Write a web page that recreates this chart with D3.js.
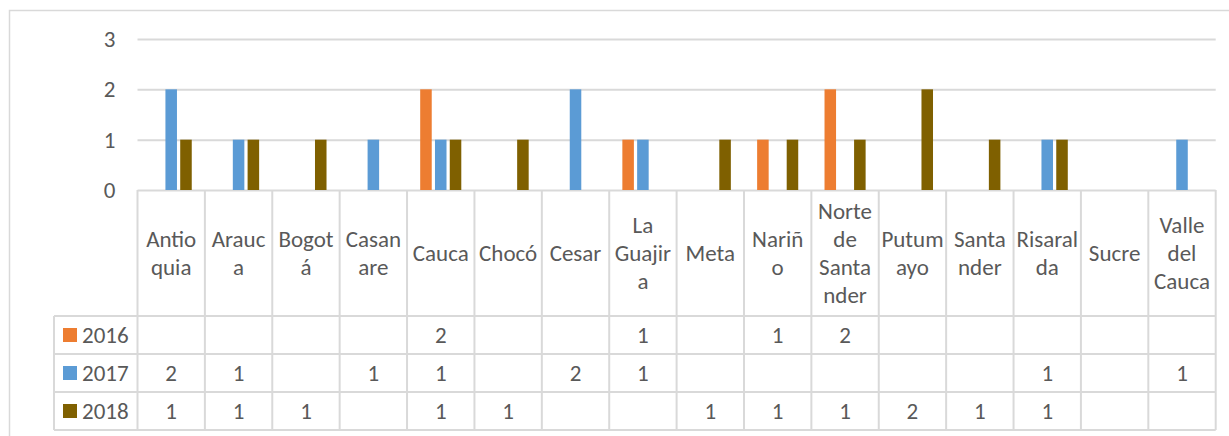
<!DOCTYPE html>
<html><head><meta charset="utf-8">
<script src="https://cdn.jsdelivr.net/npm/d3@7"></script>
<style>
html,body{margin:0;padding:0;background:#fff;}
svg{display:block;}
text{font-family:Carlito, Calibri, Lato, sans-serif;fill:#595959;}
</style></head>
<body><svg id="c" width="1229" height="436"></svg>
<script>
const categories = ["Antioquia","Arauca","Bogotá","Casanare","Cauca","Chocó","Cesar","La Guajira","Meta","Nariño","Norte de Santander","Putumayo","Santander","Risaralda","Sucre","Valle del Cauca"];
const categoryLabelLines = [["Antio","quia"],["Arauc","a"],["Bogot","á"],["Casan","are"],["Cauca"],["Chocó"],["Cesar"],["La","Guajir","a"],["Meta"],["Nariñ","o"],["Norte","de","Santa","nder"],["Putum","ayo"],["Santa","nder"],["Risaral","da"],["Sucre"],["Valle","del","Cauca"]];
const seriesNames = ["2016","2017","2018"];
const values2016 = [null,null,null,null,2,null,null,1,null,1,2,null,null,null,null,null];
const values2017 = [2,1,null,1,1,null,2,1,null,null,null,null,null,1,null,1];
const values2018 = [1,1,1,null,1,1,null,null,1,1,1,2,1,1,null,null];
const yTicks = [0,1,2,3];
const colors = ["#ED7D31","#5B9BD5","#7F6000"];

const seriesValues = [values2016, values2017, values2018];
const svg = d3.select("#c");
const fontSize = 23;
const gridColor = "#D9D9D9";

// chart border
svg.append("rect").attr("x",9.5).attr("y",10.5).attr("width",1240).attr("height",440)
  .attr("fill","none").attr("stroke",gridColor).attr("stroke-width",1.5);

const plotLeft = 137.5, plotRight = 1215.7, plotTop = 39, plotBottom = 190;
const x = d3.scaleBand().domain(categories).range([plotLeft,plotRight]).padding(0);
const y = d3.scaleLinear().domain([0,3]).range([plotBottom,plotTop]);
const inner = d3.scaleBand().domain(seriesNames).range([-20.55,20.55]).paddingInner(0.22).paddingOuter(0);

// gridlines + y labels
const yAxis = d3.axisLeft(y).tickValues(yTicks).tickSize(-(plotRight-plotLeft)).tickFormat(d3.format("d"));
const ya = svg.append("g").attr("transform",`translate(${plotLeft},0)`).call(yAxis);
ya.select(".domain").remove();
ya.selectAll(".tick line").attr("stroke",gridColor).attr("stroke-width",2);
ya.selectAll(".tick text").attr("x",-22).attr("font-size",fontSize).attr("fill","#595959")
  .style("font-family","Carlito, Calibri, Lato, sans-serif");

// bars
seriesNames.forEach((s,si)=>{
  svg.append("g").selectAll("rect").data(categories.map((c,i)=>({c,v:seriesValues[si][i]})).filter(d=>d.v!=null))
    .join("rect")
    .attr("x",d=>x(d.c)+x.bandwidth()/2+inner(s))
    .attr("width",inner.bandwidth())
    .attr("y",d=>y(d.v))
    .attr("height",d=>y(0)-y(d.v))
    .attr("fill",colors[si]);
});

// data table
const headerBottom = 316, rowH = 38, legendLeft = 54;
const rowTop = i => headerBottom + i*rowH;
const tableBottom = rowTop(seriesNames.length);
const tg = svg.append("g");
categories.forEach((c,i)=>{
  tg.append("line").attr("x1",x(c)).attr("x2",x(c)).attr("y1",plotBottom).attr("y2",tableBottom)
    .attr("stroke",gridColor).attr("stroke-width",2);
});
tg.append("line").attr("x1",plotRight).attr("x2",plotRight).attr("y1",plotBottom).attr("y2",tableBottom).attr("stroke",gridColor).attr("stroke-width",2);
tg.append("line").attr("x1",legendLeft).attr("x2",legendLeft).attr("y1",headerBottom).attr("y2",tableBottom).attr("stroke",gridColor).attr("stroke-width",2);
for(let i=0;i<=seriesNames.length;i++){
  tg.append("line").attr("x1",legendLeft).attr("x2",plotRight).attr("y1",rowTop(i)).attr("y2",rowTop(i)).attr("stroke",gridColor).attr("stroke-width",2);
}
const lineH = 28;
categories.forEach((c,i)=>{
  const lines = categoryLabelLines[i];
  const cy = (plotBottom+headerBottom)/2;
  const t = tg.append("text").attr("text-anchor","middle").attr("font-size",fontSize)
    .attr("x",x(c)+x.bandwidth()/2);
  lines.forEach((l,j)=>{
    t.append("tspan").attr("x",x(c)+x.bandwidth()/2)
      .attr("y",cy + (j-(lines.length-1)/2)*lineH).attr("dy","0.35em").text(l);
  });
});
seriesNames.forEach((s,si)=>{
  const cy = rowTop(si)+rowH/2;
  tg.append("rect").attr("x",63).attr("y",cy-7).attr("width",14).attr("height",14).attr("fill",colors[si]);
  tg.append("text").attr("x",82).attr("y",cy).attr("dy","0.35em").attr("font-size",fontSize).text(s);
  categories.forEach((c,i)=>{
    const v = seriesValues[si][i];
    if(v==null) return;
    tg.append("text").attr("x",x(c)+x.bandwidth()/2).attr("y",cy).attr("dy","0.35em")
      .attr("text-anchor","middle").attr("font-size",fontSize).text(v);
  });
});
</script></body></html>
